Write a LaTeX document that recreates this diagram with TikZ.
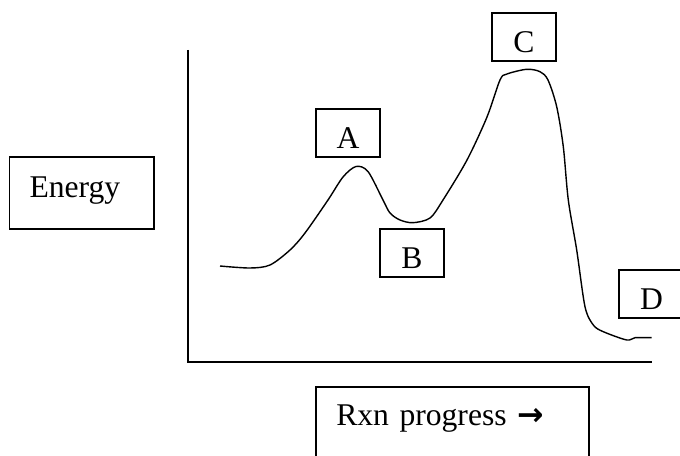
\documentclass[tikz,border=0pt]{standalone}
\usepackage{fontspec}
\setmainfont{Liberation Serif}
\newfontfamily\arrowfont{DejaVu Sans}
\usepackage{tikz}
\usetikzlibrary{positioning}

\begin{document}
\begin{tikzpicture}[
  x=0.02cm, y=-0.02cm,
  tag/.style={rectangle, draw=black, line width=1.1pt, minimum width=1.29cm,
    minimum height=0.965cm, inner sep=0pt, font=\fontsize{18}{20}\selectfont,
    text height=18pt, text depth=0pt},
  axlabel/.style={rectangle, draw=black, line width=1.1pt, align=left,
    inner xsep=0.4cm, font=\fontsize{18}{20}\selectfont},
  axis/.style={line width=1pt},
  curve/.style={line width=0.8pt, line join=round}]
\useasboundingbox (0,0) rectangle (680,456);
% axes
\draw[axis] (187.8,50) -- (187.8,361.7) -- (651.7,361.7);
% energy profile
\draw[curve] plot[smooth, tension=0.5] coordinates {
  (220,266) (250,268) (270,265) (290,250) (305,233) (328,200) (343,177)
  (356,166.5) (368,171.5) (383,200) (390,213) (400,220) (413,222.7)
  (430,218) (443,200) (467,160) (487,117) (500,80) (507,74) (526.7,69.3)
  (540,71.7) (548,80) (556.7,106.7) (563.3,146.7) (568.3,200) (576.7,250)
  (585,306.7) (593.3,325) (603.3,331.7) (626.7,340) (635,337.7) (651.7,337.7)};
% labels
\node[axlabel, text width=2.09cm, minimum height=1.446cm, text height=11.9pt,
  text depth=6.8pt] (energy) at (81.75,192.85) {Energy};
\node[axlabel, anchor=north west, text width=4.654cm, inner ysep=0.366cm,
  text height=11.9pt, text depth=1.6cm] (rxn) at (315.3,385.7)
  {Rxn progress {\arrowfont\bfseries →}};
\node[tag] (A) at (348,132.7) {A};
\node[tag] (B) at (412,252.85) {B};
\node[tag] (C) at (523.85,36.85) {C};
\node[tag] (D) at (651.6,294) {D};
\end{tikzpicture}
\end{document}
